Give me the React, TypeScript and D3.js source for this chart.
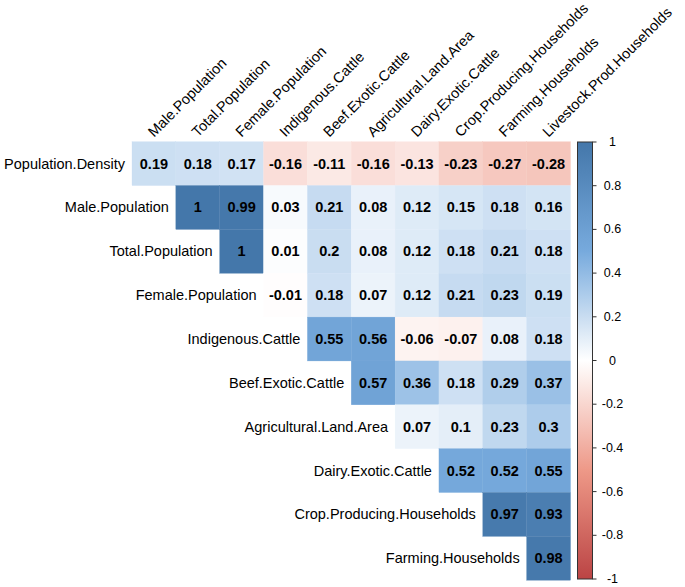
import React from "react";
import * as d3 from "d3";

const rowLabels = [
  "Population.Density",
  "Male.Population",
  "Total.Population",
  "Female.Population",
  "Indigenous.Cattle",
  "Beef.Exotic.Cattle",
  "Agricultural.Land.Area",
  "Dairy.Exotic.Cattle",
  "Crop.Producing.Households",
  "Farming.Households",
];

const colLabels = [
  "Male.Population",
  "Total.Population",
  "Female.Population",
  "Indigenous.Cattle",
  "Beef.Exotic.Cattle",
  "Agricultural.Land.Area",
  "Dairy.Exotic.Cattle",
  "Crop.Producing.Households",
  "Farming.Households",
  "Livestock.Prod.Households",
];

// Row i holds values for columns i..9
const rowValues: number[][] = [
  [0.19, 0.18, 0.17, -0.16, -0.11, -0.16, -0.13, -0.23, -0.27, -0.28],
  [1, 0.99, 0.03, 0.21, 0.08, 0.12, 0.15, 0.18, 0.16],
  [1, 0.01, 0.2, 0.08, 0.12, 0.18, 0.21, 0.18],
  [-0.01, 0.18, 0.07, 0.12, 0.21, 0.23, 0.19],
  [0.55, 0.56, -0.06, -0.07, 0.08, 0.18],
  [0.57, 0.36, 0.18, 0.29, 0.37],
  [0.07, 0.1, 0.23, 0.3],
  [0.52, 0.52, 0.55],
  [0.97, 0.93],
  [0.98],
];

const legendTicks = [1, 0.8, 0.6, 0.4, 0.2, 0, -0.2, -0.4, -0.6, -0.8, -1];
const paletteStops = [-1, -0.5, 0, 0.5, 1];
const paletteColors = ["#BB4444", "#EE9988", "#FFFFFF", "#77AADD", "#4477AA"];

const W = 685;
const H = 587;
const gridLeft = 132;
const gridTop = 141.7;
const cell = 43.85;

export default function App() {
  const color = d3
    .scaleLinear<string>()
    .domain(paletteStops)
    .range(paletteColors)
    .interpolate(d3.interpolateRgb);

  const x = d3
    .scaleBand<string>()
    .domain(colLabels)
    .range([gridLeft, gridLeft + cell * colLabels.length])
    .padding(0);
  const y = d3
    .scaleBand<string>()
    .domain(rowLabels)
    .range([gridTop, gridTop + cell * rowLabels.length])
    .padding(0);

  const barX = 577.5;
  const barW = 15;
  const yLeg = d3.scaleLinear().domain([-1, 1]).range([579, 142]);

  const cells: { r: string; c: string; v: number }[] = [];
  rowValues.forEach((vals, i) => {
    vals.forEach((v, k) => {
      cells.push({ r: rowLabels[i], c: colLabels[i + k], v });
    });
  });

  const fontFam = "Arial, 'Liberation Sans', sans-serif";
  const gradStops = d3.range(0, 1.0001, 0.05);

  return (
    <svg
      width={W}
      height={H}
      style={{ position: "absolute", left: 0, top: 0, background: "#fff" }}
      fontFamily={fontFam}
    >
      <defs>
        <linearGradient id="legGrad" x1="0" y1="1" x2="0" y2="0">
          {gradStops.map((t) => (
            <stop key={t} offset={t} stopColor={color(-1 + 2 * t)} />
          ))}
        </linearGradient>
      </defs>
      {cells.map((d, i) => (
        <rect
          key={"r" + i}
          x={x(d.c)}
          y={y(d.r)}
          width={x.bandwidth()}
          height={y.bandwidth()}
          fill={color(d.v)}
          stroke={color(d.v)}
          strokeWidth={0.3}
        />
      ))}
      {cells.map((d, i) => (
        <text
          key={"t" + i}
          x={(x(d.c) as number) + x.bandwidth() / 2}
          y={(y(d.r) as number) + y.bandwidth() / 2}
          textAnchor="middle"
          dominantBaseline="central"
          fontWeight="bold"
          fontSize={14.5}
          fill="#000"
        >
          {String(d.v)}
        </text>
      ))}
      {rowLabels.map((r, i) => (
        <text
          key={"rl" + i}
          x={(x(colLabels[i]) as number) - 7}
          y={(y(r) as number) + y.bandwidth() / 2}
          textAnchor="end"
          dominantBaseline="central"
          fontSize={14.5}
          fill="#000"
        >
          {r}
        </text>
      ))}
      {colLabels.map((c, i) => {
        const cx = (x(c) as number) + x.bandwidth() / 2;
        const cy = gridTop - 4;
        return (
          <text
            key={"cl" + i}
            x={cx}
            y={cy}
            transform={`rotate(-45, ${cx}, ${cy})`}
            textAnchor="start"
            fontSize={14.5}
            fill="#000"
          >
            {c}
          </text>
        );
      })}
      <rect
        x={barX}
        y={yLeg(1)}
        width={barW}
        height={yLeg(-1) - yLeg(1)}
        fill="url(#legGrad)"
        stroke="#333"
        strokeWidth={1}
      />
      {legendTicks.map((t, i) => (
        <g key={"lt" + i}>
          <line
            x1={barX + barW}
            x2={barX + barW + 4}
            y1={yLeg(t)}
            y2={yLeg(t)}
            stroke="#333"
            strokeWidth={1}
          />
          <text
            x={612.5}
            y={yLeg(t)}
            textAnchor="middle"
            dominantBaseline="central"
            fontSize={12.5}
            fill="#000"
          >
            {String(t)}
          </text>
        </g>
      ))}
    </svg>
  );
}
